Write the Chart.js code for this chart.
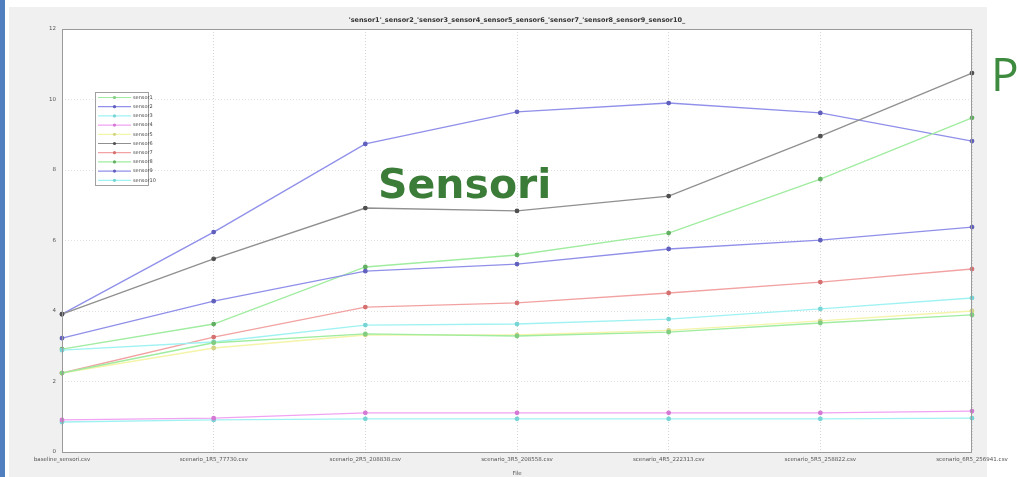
<!DOCTYPE html>
<html>
<head>
<meta charset="utf-8">
<title>Sensori</title>
<script src="https://cdn.jsdelivr.net/npm/chart.js@4.4.1/dist/chart.umd.min.js"></script>
<style>
  html, body { margin: 0; padding: 0; background: #ffffff; overflow: hidden; }
  #wrap { position: relative; width: 1017px; height: 477px; }
  canvas { display: block; }
  .big { position: absolute; color: #3b7d38; white-space: nowrap; }
  #sensori { left: 378px; top: 160px; font: bold 41px "DejaVu Sans", sans-serif; }
  #pchar { left: 991px; top: 42px; font: 46px "Open Sans", sans-serif; color: #3e8a3e; }
</style>
</head>
<body>
<div id="wrap">
  <canvas id="c" width="1017" height="477"></canvas>
  <div class="big" id="sensori">Sensori</div>
  <div class="big" id="pchar">P</div>
</div>
<script>
// Files on the x axis
const files = [
  "baseline_sensori.csv",
  "scenario_1R5_77730.csv",
  "scenario_2R5_208838.csv",
  "scenario_3R5_208558.csv",
  "scenario_4R5_222313.csv",
  "scenario_5R5_258822.csv",
  "scenario_6R5_256941.csv"
];

const seriesNames = ["sensor1", "sensor2", "sensor3", "sensor4", "sensor5",
                     "sensor6", "sensor7", "sensor8", "sensor9", "sensor10"];

// Measured values per sensor, one per file
const sensor1  = [2.24, 3.10, 3.35, 3.29, 3.40, 3.66, 3.89];
const sensor2  = [3.23, 4.28, 5.13, 5.33, 5.76, 6.01, 6.38];
const sensor3  = [2.89, 3.12, 3.60, 3.63, 3.77, 4.06, 4.37];
const sensor4  = [0.91, 0.96, 1.11, 1.11, 1.11, 1.11, 1.16];
const sensor5  = [2.24, 2.95, 3.32, 3.32, 3.45, 3.72, 4.00];
const sensor6  = [3.91, 5.48, 6.92, 6.84, 7.26, 8.96, 10.75];
const sensor7  = [2.24, 3.26, 4.11, 4.23, 4.51, 4.82, 5.19];
const sensor8  = [2.92, 3.63, 5.25, 5.59, 6.21, 7.74, 9.48];
const sensor9  = [3.91, 6.24, 8.74, 9.65, 9.90, 9.62, 8.82];
const sensor10 = [0.85, 0.91, 0.94, 0.94, 0.94, 0.94, 0.96];

const yTicks = [0, 2, 4, 6, 8, 10, 12];

const plotTitle = "'sensor1'_sensor2_'sensor3_sensor4_sensor5_sensor6_'sensor7_'sensor8_sensor9_sensor10_";
const xTitle = "File";

// Line colour / marker colour per sensor
const lineColors = ["#a0eca0", "#9090ea", "#a0f2f2", "#f2a2f2", "#f4f4aa",
                    "#909090", "#f2a2a2", "#a0eca0", "#9090ea", "#a0f2f2"];
const markColors = ["#80cc80", "#6060bc", "#78d4d4", "#d478d4", "#d4d488",
                    "#505050", "#d47070", "#62ae62", "#6060bc", "#78d4d4"];

const allValues = [sensor1, sensor2, sensor3, sensor4, sensor5,
                   sensor6, sensor7, sensor8, sensor9, sensor10];

const datasets = allValues.map((vals, i) => ({
  label: seriesNames[i],
  data: vals,
  borderColor: lineColors[i],
  backgroundColor: markColors[i],
  pointBackgroundColor: markColors[i],
  pointBorderColor: markColors[i],
  pointRadius: 1.7,
  pointHoverRadius: 1.7,
  borderWidth: 1.4,
  tension: 0,
  fill: false
}));

// Figure frame: slide edge, gray figure panel, white axes, border and title
const framePlugin = {
  id: 'frame',
  beforeDraw(chart) {
    const ctx = chart.ctx, a = chart.chartArea;
    ctx.save();
    ctx.fillStyle = '#ffffff';
    ctx.fillRect(0, 0, chart.width, chart.height);
    ctx.fillStyle = '#4f7fbf';
    ctx.fillRect(0, 0, 5, chart.height);
    ctx.fillStyle = '#f0f0f0';
    ctx.fillRect(9, 7, 978, chart.height - 7);
    ctx.fillStyle = '#ffffff';
    ctx.fillRect(a.left, a.top, a.right - a.left, a.bottom - a.top);
    ctx.restore();
  },
  afterDraw(chart) {
    const ctx = chart.ctx, a = chart.chartArea;
    ctx.save();
    ctx.strokeStyle = '#9a9a9a';
    ctx.lineWidth = 1;
    ctx.strokeRect(a.left + 0.5, a.top + 0.5, a.right - a.left - 1, a.bottom - a.top);
    ctx.fillStyle = '#333333';
    ctx.font = 'bold 6.5px "DejaVu Sans", sans-serif';
    ctx.textAlign = 'center';
    ctx.textBaseline = 'alphabetic';
    ctx.fillText(plotTitle, (a.left + a.right) / 2, 22);

    // legend box
    const lx = 95, ly = 92, lw = 53, lh = 93, rowH = 9.2;
    ctx.fillStyle = '#ffffff';
    ctx.fillRect(lx, ly, lw, lh);
    ctx.strokeStyle = '#a0a0a0';
    ctx.strokeRect(lx + 0.5, ly + 0.5, lw, lh);
    ctx.font = '5px "DejaVu Sans", sans-serif';
    ctx.textAlign = 'left';
    ctx.textBaseline = 'middle';
    chart.data.datasets.forEach((ds, i) => {
      const y = ly + 5.5 + i * rowH;
      ctx.strokeStyle = ds.borderColor;
      ctx.lineWidth = 1.2;
      ctx.beginPath();
      ctx.moveTo(lx + 3, y);
      ctx.lineTo(lx + 36, y);
      ctx.stroke();
      ctx.fillStyle = ds.pointBackgroundColor;
      ctx.beginPath();
      ctx.arc(lx + 19.5, y, 1.6, 0, Math.PI * 2);
      ctx.fill();
      ctx.fillStyle = '#444444';
      ctx.fillText(ds.label, lx + 38, y);
    });
    ctx.restore();
  }
};

new Chart(document.getElementById('c'), {
  type: 'line',
  data: { labels: files, datasets: datasets },
  options: {
    responsive: false,
    animation: false,
    events: [],
    layout: { padding: { top: 29, right: 45, left: 0, bottom: 0 } },
    plugins: { legend: { display: false }, title: { display: false }, tooltip: { enabled: false } },
    scales: {
      x: {
        type: 'category',
        offset: false,
        afterFit(s) { s.height = 25; },
        grid: { color: '#d4d4d4', lineWidth: 1, drawTicks: false },
        border: { display: false, dash: [1, 2] },
        ticks: { color: '#555555', font: { size: 5.5, family: 'DejaVu Sans' }, maxRotation: 0, autoSkip: false, padding: 4 },
        title: { display: true, text: xTitle, color: '#555555', font: { size: 5.5, family: 'DejaVu Sans' }, padding: { top: 0, bottom: 0 } }
      },
      y: {
        min: yTicks[0],
        max: yTicks[yTicks.length - 1],
        afterFit(s) { s.width = 62; },
        afterBuildTicks(s) { s.ticks = yTicks.map(v => ({ value: v })); },
        grid: { color: '#e2e2e2', lineWidth: 1, drawTicks: false },
        border: { display: false, dash: [1, 2] },
        ticks: { color: '#555555', font: { size: 5.5, family: 'DejaVu Sans' }, padding: 6 }
      }
    }
  },
  plugins: [framePlugin]
});
</script>
</body>
</html>
